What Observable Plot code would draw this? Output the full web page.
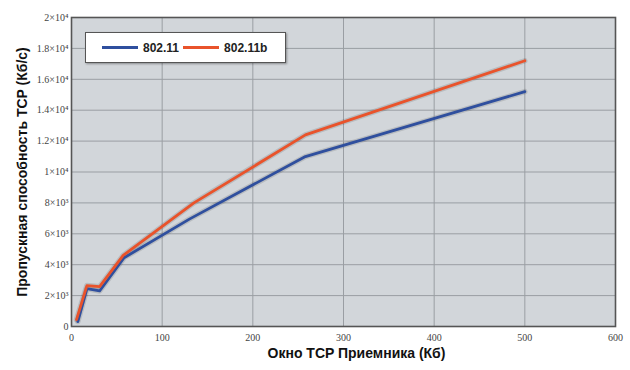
<!DOCTYPE html>
<html><head><meta charset="utf-8">
<script src="https://cdn.jsdelivr.net/npm/d3@7"></script>
<script src="https://cdn.jsdelivr.net/npm/@observablehq/plot@0.6"></script>
<style>
body{margin:0;background:#fff;}
#wrap{position:relative;width:630px;height:370px;}
.legend{position:absolute;left:85px;top:32px;width:199px;height:29px;background:#fff;border:1.5px solid #555;box-shadow:1px 1px 2px rgba(0,0,0,.35);display:flex;align-items:center;font:bold 12px "Liberation Sans",Arial,sans-serif;color:#222;}
.legend .sw{display:inline-block;width:36px;height:3px;margin:0 5px 0 0;}
.legend .it{display:flex;align-items:center;}
</style>
</head><body>
<div id="wrap"></div>
<script>
const seriesNames = ["802.11", "802.11b"];
const seriesColors = ["#2f4f9e", "#e9532b"];
const x80211 = [7, 17, 31, 58, 130, 258, 500];
const y80211 = [320, 2450, 2300, 4450, 6950, 11000, 15200];
const x80211b = [5.5, 17, 31, 57, 135, 258, 500];
const y80211b = [450, 2650, 2580, 4600, 8000, 12400, 17200];
const xTicks = [0, 100, 200, 300, 400, 500, 600];
const yTicks = [0, 2000, 4000, 6000, 8000, 10000, 12000, 14000, 16000, 18000, 20000];
const yTickLabels = ["0", "2×10³", "4×10³", "6×10³", "8×10³", "1×10⁴", "1.2×10⁴", "1.4×10⁴", "1.6×10⁴", "1.8×10⁴", "2×10⁴"];
const xTitle = "Окно TCP Приемника (Кб)";
const yTitle = "Пропускная способность TCP (Кб/с)";

const data = [
  ...x80211.map((x, i) => ({x, y: y80211[i], s: seriesNames[0]})),
  ...x80211b.map((x, i) => ({x, y: y80211b[i], s: seriesNames[1]}))
];
const serif = "'Liberation Serif', 'DejaVu Serif', serif";
const sans = "'Liberation Sans', Arial, sans-serif";

const chart = Plot.plot({
  width: 630, height: 370,
  marginLeft: 71, marginRight: 15, marginTop: 17, marginBottom: 44,
  style: {background: "#fff", overflow: "visible"},
  x: {domain: [0, 600], ticks: xTicks},
  y: {domain: [0, 20000], ticks: yTicks},
  color: {domain: seriesNames, range: seriesColors},
  marks: [
    Plot.frame({fill: "#d2d6da"}),
    Plot.gridX(xTicks.slice(1, -1), {stroke: "#9a9ea3", strokeOpacity: 1, strokeWidth: 1}),
    Plot.gridY(yTicks.slice(1, -1), {stroke: "#9a9ea3", strokeOpacity: 1, strokeWidth: 1}),
    Plot.lineY(data, {x: "x", y: "y", z: "s", stroke: "#000", strokeOpacity: 0.12, strokeWidth: 5.5}),
    Plot.lineY(data, {x: "x", y: "y", z: "s", stroke: "s", strokeWidth: 2.8}),
    Plot.frame({stroke: "#555", strokeWidth: 1.6}),
    Plot.axisX(xTicks, {tickSize: 0, tickPadding: 7, label: null, fontSize: 10, fill: "#444"}),
    Plot.axisY(yTicks, {tickSize: 0, tickPadding: 3, label: null, fontSize: 10, fill: "#444",
      tickFormat: (d) => yTickLabels[yTicks.indexOf(d)]}),
    Plot.text([xTitle], {frameAnchor: "bottom", dx: 13, dy: 31, fontWeight: "bold", fontSize: 14, fill: "#111"}),
    Plot.text([yTitle], {frameAnchor: "left", textAnchor: "middle", rotate: -90, dx: -49, fontWeight: "bold", fontSize: 14, fill: "#111"})
  ]
});
// font styling of text elements
const tickSet = new Set([...yTickLabels, ...xTicks.map(String)]);
chart.querySelectorAll("text").forEach((t) => {
  if (tickSet.has(t.textContent)) t.style.fontFamily = serif;
  else t.style.fontFamily = sans;
});
const wrap = document.getElementById("wrap");
wrap.appendChild(chart);
const lg = document.createElement("div");
lg.className = "legend";
lg.innerHTML = seriesNames.map((n, i) =>
  `<span class="it" style="margin-left:${i ? 4 : 16}px"><span class="sw" style="background:${seriesColors[i]}"></span>${n}</span>`).join("");
wrap.appendChild(lg);
</script>
</body></html>
